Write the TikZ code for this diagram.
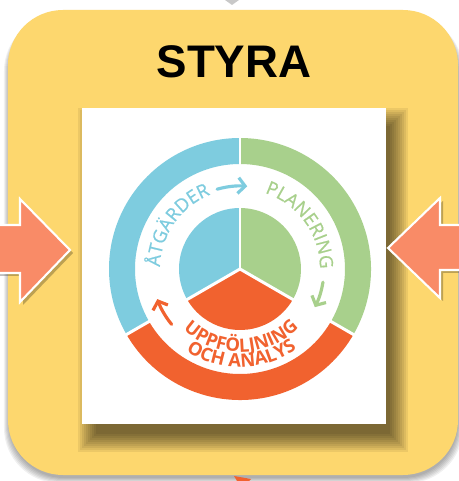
\documentclass[tikz,border=0pt]{standalone}
\usepackage{fontspec}
\setmainfont{Liberation Sans}
\newfontfamily\ringfont{Open Sans}[FakeBold=0.6]
\newfontfamily\ringfontb{Open Sans}
\usepackage{tikz}
\usetikzlibrary{calc, arrows.meta, decorations.text}

\definecolor{boxyellow}{HTML}{FDD76E}
\definecolor{ringblue}{HTML}{7ECCDF}
\definecolor{ringgreen}{HTML}{A8D08C}
\definecolor{ringorange}{HTML}{F1622F}
\definecolor{sidearrow}{HTML}{F98B67}

\begin{document}
\begin{tikzpicture}[x=0.02cm, y=0.02cm, >=stealth,
    cyclearrow/.style={-{Straight Barb[length=4pt,width=9pt]}, line width=1.8pt, line cap=round},
    sidearr/.style={fill=sidearrow, draw=white, line width=1.2pt, line join=miter}]
    \useasboundingbox (0,0) rectangle (459,481);
    \fill[white] (0,0) rectangle (459,481);

    % frame
    \foreach \d in {0,...,5}
        \fill[black, opacity=0.06, rounded corners=1.1cm] (9-\d,3-\d) rectangle (458+\d,465);
    \fill[boxyellow, rounded corners=1.1cm] (8,6) rectangle (458,471);
    \fill[gray!60, opacity=0.7] (225,481) -- (239,481) -- (232,476) -- cycle;
    \fill[ringorange] (234,5) -- (251,2) -- (249,0) -- (237,0) -- cycle;

    \node[font=\bfseries\fontsize{26}{30}\selectfont] (title) at (234,419) {STYRA};

    % picture with shadow
    \foreach \d in {0,2,...,18}
        \fill[black, opacity=0.065] (96-\d,47-\d) rectangle (390+\d,355+\d);
    \fill[white] (82,57) rectangle (386,373);

    \coordinate (C) at (240,212);
    \def\rOut{131}
    \def\rMid{105}
    \def\rIn{61}

    \fill[ringblue] ($(C)+(90:\rOut)$) arc[start angle=90, end angle=210, radius=\rOut]
        -- ($(C)+(210:\rMid)$) arc[start angle=210, end angle=90, radius=\rMid] -- cycle;
    \fill[ringorange] ($(C)+(210:\rOut)$) arc[start angle=210, end angle=330, radius=\rOut]
        -- ($(C)+(330:\rMid)$) arc[start angle=330, end angle=210, radius=\rMid] -- cycle;
    \fill[ringgreen] ($(C)+(-30:\rOut)$) arc[start angle=-30, end angle=90, radius=\rOut]
        -- ($(C)+(90:\rMid)$) arc[start angle=90, end angle=-30, radius=\rMid] -- cycle;

    \fill[ringblue] (C) -- ++(90:\rIn) arc[start angle=90, end angle=210, radius=\rIn] -- cycle;
    \fill[ringorange] (C) -- ++(210:\rIn) arc[start angle=210, end angle=330, radius=\rIn] -- cycle;
    \fill[ringgreen] (C) -- ++(-30:\rIn) arc[start angle=-30, end angle=90, radius=\rIn] -- cycle;
    \foreach \a in {90,210,330}
        \draw[white, line width=1.7pt] (C) -- ++(\a:\rOut+3);

    % labels
    \path[decorate, decoration={text along path, text align=center,
        text={|\ringfont\fontsize{10.5}{12}\selectfont\color{ringblue}|ÅTGÄRDER}}]
        (C) ++(195:80) arc[start angle=195, end angle=95, radius=80];
    \path[decorate, decoration={text along path, text align=center,
        text={|\ringfont\fontsize{10.5}{12}\selectfont\color{ringgreen}|PLANERING}}]
        (C) ++(86:80) arc[start angle=86, end angle=-14, radius=80];
    \path[decorate, decoration={text along path, text align=center,
        text={|\ringfontb\bfseries\fontsize{10.5}{12}\selectfont\color{ringorange}|UPPFÖLJNING}}]
        (C) ++(211:83) arc[start angle=211, end angle=331, radius=83];
    \path[decorate, decoration={text along path, text align=center,
        text={|\ringfontb\bfseries\fontsize{10.5}{12}\selectfont\color{ringorange}|OCH ANALYS}}]
        (C) ++(211:98) arc[start angle=211, end angle=331, radius=98];

    \draw[cyclearrow, ringblue] (C) ++(106:83) arc[start angle=106, end angle=85, radius=83];
    \draw[cyclearrow, ringgreen] (C) ++(-9:84) arc[start angle=-9, end angle=-27, radius=84];
    \draw[cyclearrow, ringorange] (C) ++(219:88) arc[start angle=219, end angle=200, radius=88];

    % side arrows
    \fill[black, opacity=0.25] (-5,205) -- (23,205) -- (23,176) -- (73,228) -- (23,279) -- (23,253) -- (-5,253) -- cycle;
    \filldraw[sidearr] (-5,208) -- (20,208) -- (20,179) -- (70,231) -- (20,282) -- (20,256) -- (-5,256) -- cycle;
    \fill[black, opacity=0.25] (468,208) -- (443,208) -- (443,180) -- (391,230) -- (443,280) -- (443,253) -- (468,253) -- cycle;
    \filldraw[sidearr] (465,211) -- (440,211) -- (440,183) -- (388,233) -- (440,283) -- (440,256) -- (465,256) -- cycle;
\end{tikzpicture}
\end{document}
